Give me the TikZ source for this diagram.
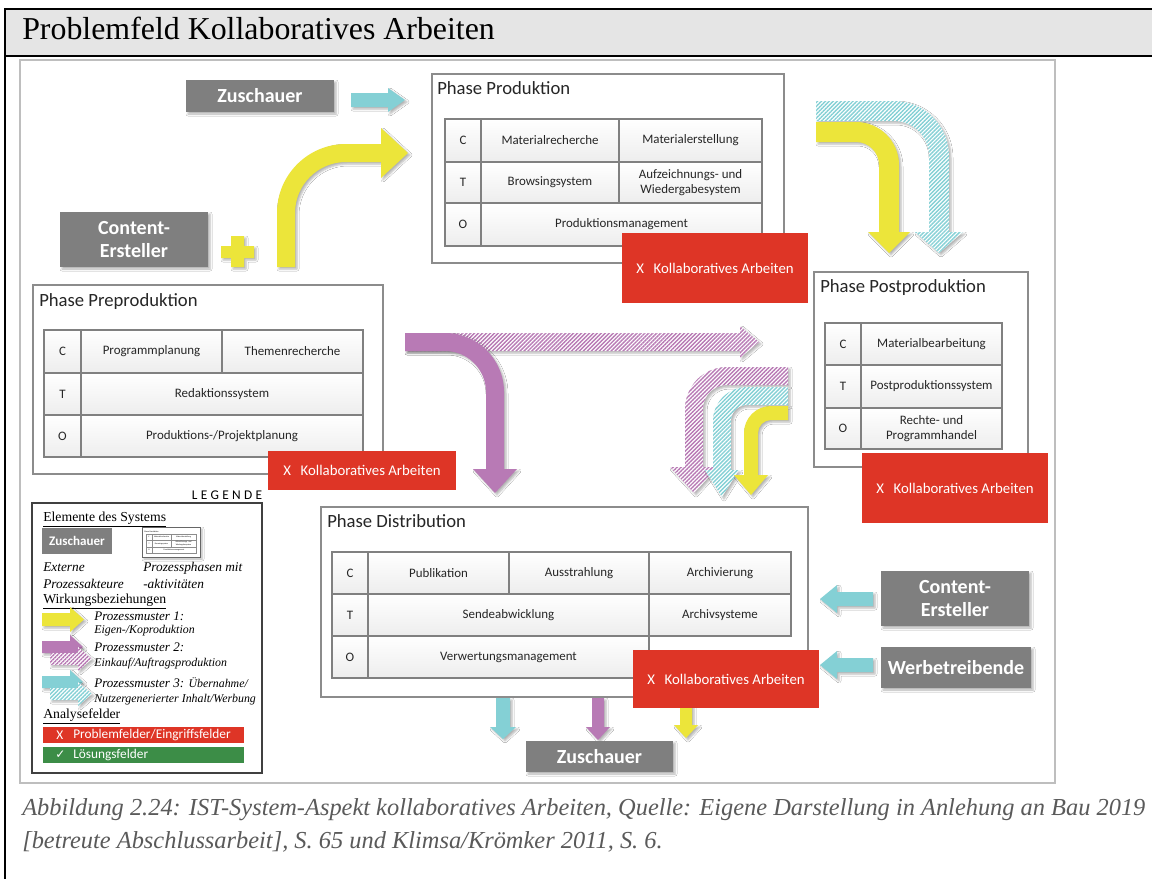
\documentclass[tikz,border=0pt]{standalone}
\usepackage{fontspec}
\setmainfont{Liberation Serif}
\newfontfamily\dgfont{Carlito}
\newfontfamily\dgspaced[LetterSpace=25]{Carlito}
\newfontfamily\chkfont{DejaVu Sans}
\usetikzlibrary{patterns.meta,shadows.blur}

\definecolor{ayellow}{RGB}{236,229,58}
\definecolor{apurple}{RGB}{184,122,181}
\definecolor{acyan}{RGB}{132,208,213}
\definecolor{actorgrey}{RGB}{127,127,127}
\definecolor{alarm}{RGB}{222,53,38}
\definecolor{okgreen}{RGB}{60,141,71}
\definecolor{framegrey}{RGB}{190,190,190}
\definecolor{boxgrey}{RGB}{140,140,140}
\definecolor{cellgrey}{RGB}{128,128,128}
\definecolor{titlebg}{RGB}{229,229,229}
\definecolor{captiongrey}{RGB}{90,90,90}

\tikzset{
  px/.style={x=0.75pt,y=-0.75pt},
  soft/.style={blur shadow={shadow xshift=1.5pt, shadow yshift=-1.5pt, shadow blur radius=1.5pt, shadow opacity=30}},
  solidarrow/.style={soft, fill=#1},
  hatcharrow/.style={soft, preaction={fill=white}, pattern={Lines[angle=45,distance=2.1pt,line width=1.05pt]}, pattern color=#1},
  phasebox/.style={draw=boxgrey, line width=0.9pt, fill=white},
  phasetitle/.style={font=\dgfont\fontsize{14}{16}\selectfont, anchor=base west, inner sep=0pt, text=black!85},
  tcell/.style={draw=cellgrey, line width=0.9pt, top color=white, bottom color=black!7},
  ttext/.style={font=\dgfont\fontsize{9.7}{11.3}\selectfont, align=center, inner sep=0pt, text=black!85},
  actorbox/.style={fill=actorgrey, soft},
  actortext/.style={font=\dgfont\bfseries\fontsize{15}{17.3}\selectfont, text=white, align=center, inner sep=0pt},
  alarmbox/.style={fill=alarm},
  alarmtext/.style={font=\dgfont\fontsize{11.1}{13}\selectfont, text=white, inner sep=0pt},
  legendhead/.style={font=\fontsize{10.3}{12}\selectfont, anchor=base west, inner sep=0pt},
  legenditem/.style={font=\itshape\fontsize{10}{12}\selectfont, anchor=base west, inner sep=0pt},
  legendpm/.style={font=\itshape\fontsize{9.8}{12}\selectfont, anchor=base west, inner sep=0pt},
  legendsub/.style={font=\itshape\fontsize{8.9}{11}\selectfont, anchor=base west, inner sep=0pt},
  legendbar/.style={font=\dgfont\fontsize{10}{12}\selectfont, text=white, anchor=west, inner sep=0pt},
  minicell/.style={draw=black!45, line width=0.25pt, fill=white},
  minitext/.style={font=\dgfont\fontsize{1.5}{1.8}\selectfont, inner sep=0pt, align=center},
  captiontext/.style={font=\itshape\fontsize{18.3}{22}\selectfont, text=captiongrey, anchor=base west, inner sep=0pt}
}

% table cell: name, x1, y1, x2, y2, text
\newcommand\tcell[6]{%
  \draw[tcell] (#2,#3) rectangle (#4,#5);
  \node[ttext] (#1) at ({(#2+#4)/2},{(#3+#5)/2}) {#6};}
% red problem field: name, x1, y1, x2, y2
\newcommand\alarmfield[5]{%
  \fill[alarmbox] (#2,#3) rectangle (#4,#5);
  \node[alarmtext] (#1) at ({(#2+#4)/2},{(#3+#5)/2}) {X\hspace{0.65em}Kollaboratives Arbeiten};}
% external actor: name, x1, y1, x2, y2, text
\newcommand\actor[6]{%
  \fill[actorbox] (#2,#3) rectangle (#4,#5);
  \node[actortext] (#1) at ({(#2+#4)/2},{(#3+#5)/2}) {#6};}
% small table cell for the legend thumbnail
\newcommand\mcell[6]{%
  \draw[minicell] (#2,#3) rectangle (#4,#5);
  \node[minitext] (#1) at ({(#2+#4)/2},{(#3+#5)/2}) {#6};}

\begin{document}
\begin{tikzpicture}[px]
\useasboundingbox (0,0) rectangle (1152,879);
\fill[white] (0,0) rectangle (1152,879);

% ---- page frame and heading
\fill[titlebg] (5,9) rectangle (1152,56);
\draw[line width=1.9pt] (1152,9) -- (5,9) -- (5,879);
\draw[line width=1.9pt] (5,56) -- (1152,56);
\node[anchor=base west, font=\fontsize{23.9}{28}\selectfont, inner sep=0pt] (title) at (22,39) {Problemfeld Kollaboratives Arbeiten};

% ---- figure frame
\draw[framegrey, line width=1.2pt] (20,60) rectangle (1055,783);

% ---- process arrows
% Zuschauer -> Produktion
\path[solidarrow=acyan] (351,93) -- (388,93) -- (388,88) -- (405,100) -- (388,112) -- (388,107) -- (351,107) -- cycle;
% Content-Ersteller -> Produktion
\path[solidarrow=ayellow] (277,267) -- (277,213) arc[start angle=180,end angle=270,radius=69] -- (381,144) -- (381,128) -- (408,153) -- (381,178) -- (381,162) -- (346,162) arc[start angle=270,end angle=180,radius=51] -- (295,267) -- cycle;
% plus sign
\path[solidarrow=ayellow] (231,236) -- (244,236) -- (244,246) -- (254,246) -- (254,258) -- (244,258) -- (244,267) -- (231,267) -- (231,258) -- (221,258) -- (221,246) -- (231,246) -- cycle;

% Produktion -> Postproduktion
\path[hatcharrow=acyan] (816,101) -- (894,101) arc[start angle=270,end angle=360,radius=55] -- (949,232) -- (963,232) -- (939,253) -- (915,232) -- (929,232) -- (929,156) arc[start angle=0,end angle=-90,radius=35] -- (816,121) -- cycle;
\path[solidarrow=ayellow] (816,122) -- (856,122) arc[start angle=270,end angle=360,radius=43] -- (899,232) -- (910,232) -- (889,253) -- (868,232) -- (879,232) -- (879,165) arc[start angle=0,end angle=-90,radius=23] -- (816,142) -- cycle;

% Preproduktion -> Postproduktion / Distribution
\path[hatcharrow=apurple] (405,333) -- (740,333) -- (740,326) -- (759,342) -- (740,358) -- (740,351) -- (405,351) -- cycle;
\path[solidarrow=apurple] (405,333) -- (445,333) arc[start angle=270,end angle=360,radius=59] -- (504,469) -- (517,469) -- (495,493) -- (473,469) -- (486,469) -- (486,392) arc[start angle=0,end angle=-90,radius=41] -- (445,351) -- (405,351) -- cycle;

% Postproduktion -> Distribution
\path[hatcharrow=apurple] (788,367) -- (727,367) arc[start angle=270,end angle=180,radius=42] -- (685,467) -- (670,467) -- (694,493) -- (718,467) -- (703,467) -- (703,409) arc[start angle=180,end angle=270,radius=24] -- (788,385) -- cycle;
\path[hatcharrow=acyan] (788,387) -- (747,387) arc[start angle=270,end angle=180,radius=34] -- (713,470) -- (705,470) -- (722,497) -- (739,470) -- (731,470) -- (731,421) arc[start angle=180,end angle=270,radius=16] -- (788,405) -- cycle;
\path[solidarrow=ayellow] (788,406) -- (771,406) arc[start angle=270,end angle=180,radius=27] -- (744,475) -- (734,475) -- (751,495) -- (768,475) -- (758,475) -- (758,433) arc[start angle=180,end angle=270,radius=13] -- (788,420) -- cycle;

% Distribution -> Zuschauer
\path[solidarrow=acyan] (496,698) -- (510,698) -- (510,727) -- (516,727) -- (503,739) -- (490,727) -- (496,727) -- cycle;
\path[solidarrow=apurple] (592,698) -- (604,698) -- (604,727) -- (610,727) -- (598,740) -- (586,727) -- (592,727) -- cycle;
\path[solidarrow=ayellow] (680,700) -- (692,700) -- (692,725) -- (698,725) -- (686,738) -- (674,725) -- (680,725) -- cycle;

% external actors -> Distribution
\path[solidarrow=acyan] (873,592) -- (837,592) -- (837,585) -- (820,599) -- (837,613) -- (837,606) -- (873,606) -- cycle;
\path[solidarrow=acyan] (873,658) -- (837,658) -- (837,651) -- (820,665) -- (837,679) -- (837,672) -- (873,672) -- cycle;

% ---- Phase Produktion
\draw[phasebox] (432,74) rectangle (784,263);
\node[phasetitle] (phPr) at (437,94) {Phase Produktion};
\tcell{prC}{445}{119}{481}{162}{C}
\tcell{prMR}{481}{119}{619}{162}{Materialrecherche}
\tcell{prME}{619}{119}{762}{162}{Materialerstellung}
\tcell{prT}{445}{162}{481}{203}{T}
\tcell{prBS}{481}{162}{619}{203}{Browsingsystem}
\tcell{prAW}{619}{162}{762}{203}{Aufzeichnungs- und\\Wiedergabesystem}
\tcell{prO}{445}{203}{481}{246}{O}
\tcell{prPM}{481}{203}{762}{246}{Produktionsmanagement}

% ---- Phase Preproduktion
\draw[phasebox] (33,285) rectangle (383,474);
\node[phasetitle] (phPp) at (39,306) {Phase Preproduktion};
\tcell{ppC}{44}{330}{81}{373}{C}
\tcell{ppPP}{81}{330}{222}{373}{Programmplanung}
\tcell{ppTR}{222}{330}{363}{373}{Themenrecherche}
\tcell{ppT}{44}{373}{81}{415}{T}
\tcell{ppRS}{81}{373}{363}{415}{Redaktionssystem}
\tcell{ppO}{44}{415}{81}{457}{O}
\tcell{ppPJ}{81}{415}{363}{457}{Produktions-/Projektplanung}

% ---- Phase Postproduktion
\draw[phasebox] (814,272) rectangle (1028,467);
\node[phasetitle] (phPo) at (820,292) {Phase Postproduktion};
\tcell{poC}{825}{323}{861}{365}{C}
\tcell{poMB}{861}{323}{1002}{365}{Materialbearbeitung}
\tcell{poT}{825}{365}{861}{408}{T}
\tcell{poPS}{861}{365}{1002}{408}{Postproduktionssystem}
\tcell{poO}{825}{408}{861}{449}{O}
\tcell{poRP}{861}{408}{1002}{449}{Rechte- und\\Programmhandel}

% ---- Phase Distribution
\draw[phasebox] (321,507) rectangle (808,697);
\node[phasetitle] (phDi) at (327,527) {Phase Distribution};
\tcell{diC}{332}{552}{368}{594}{C}
\tcell{diPu}{368}{552}{509}{594}{Publikation}
\tcell{diAu}{509}{552}{649}{594}{Ausstrahlung}
\tcell{diAr}{649}{552}{791}{594}{Archivierung}
\tcell{diT}{332}{594}{368}{636}{T}
\tcell{diSA}{368}{594}{649}{636}{Sendeabwicklung}
\tcell{diAS}{649}{594}{791}{636}{Archivsysteme}
\tcell{diO}{332}{636}{368}{678}{O}
\tcell{diVM}{368}{636}{649}{678}{Verwertungsmanagement}

% ---- problem fields
\alarmfield{kaPr}{622}{233}{808}{303}
\alarmfield{kaPp}{268}{451}{456}{490}
\alarmfield{kaPo}{862}{453}{1048}{523}
\alarmfield{kaDi}{633}{650}{819}{708}

% ---- external actors
\actor{zuTop}{186}{80}{334}{112}{Zuschauer}
\actor{ceLeft}{60}{212}{208}{267}{Content-\\Ersteller}
\actor{ceRight}{881}{571}{1029}{626}{Content-\\Ersteller}
\actor{wbRight}{881}{647}{1031}{688}{Werbetreibende}
\actor{zuBot}{526}{741}{673}{772}{Zuschauer}

% ---- legend
\node[anchor=base, font=\dgspaced\fontsize{10}{12}\selectfont, inner sep=0pt] (legTitle) at (227,499) {LEGENDE};
\draw[black!75, line width=0.9pt, fill=white] (32,503) rectangle (262,773);
\node[legendhead] (lgElem) at (43,521) {\underline{Elemente des Systems}};
\fill[actorgrey] (42,528) rectangle (112,554);
\node[font=\dgfont\bfseries\fontsize{9.8}{12}\selectfont, text=white, inner sep=0pt] (lgZu) at (77,541) {Zuschauer};
% thumbnail of a process phase
\draw[black!60, line width=0.6pt, fill=white, soft] (142,527) rectangle (200,557);
\node[minitext, anchor=base west] (lgThumbT) at (144,532) {Phase Produktion};
\mcell{mC}{146}{534}{152}{540.3}{C}
\mcell{mA}{152}{534}{171}{540.3}{Materialrecherche}
\mcell{mB}{171}{534}{196}{540.3}{Materialerstellung}
\mcell{mT}{146}{540.3}{152}{546.7}{T}
\mcell{mD}{152}{540.3}{171}{546.7}{Browsingsystem}
\mcell{mE}{171}{540.3}{196}{546.7}{Aufzeichnungs- und\\Wiedergabesystem}
\mcell{mO}{146}{546.7}{152}{553}{O}
\mcell{mF}{152}{546.7}{196}{553}{Produktionsmanagement}
\node[legenditem] (lgExt1) at (43,571) {Externe};
\node[legenditem] (lgExt2) at (43,588) {Prozessakteure};
\node[legenditem] (lgPh1) at (143,571) {Prozessphasen mit};
\node[legenditem] (lgPh2) at (143,588) {-aktivitäten};
\node[legendhead] (lgWirk) at (43,603) {\underline{Wirkungsbeziehungen}};
% pattern arrows
\path[solidarrow=ayellow] (42,613) -- (70,613) -- (70,607) -- (84,619.5) -- (70,632) -- (70,626) -- (42,626) -- cycle;
\path[solidarrow=apurple] (42,641) -- (70,641) -- (70,635) -- (83,647) -- (70,659) -- (70,653) -- (42,653) -- cycle;
\path[hatcharrow=apurple] (50,653) -- (78,653) -- (78,647) -- (92,659) -- (78,671) -- (78,665) -- (50,665) -- cycle;
\path[solidarrow=acyan] (42,676) -- (70,676) -- (70,670) -- (83,682) -- (70,694) -- (70,688) -- (42,688) -- cycle;
\path[hatcharrow=acyan] (50,688) -- (78,688) -- (78,682) -- (92,694) -- (78,706) -- (78,700) -- (50,700) -- cycle;
\node[legendpm] (lgPM1) at (94,620) {Prozessmuster 1:};
\node[legendsub] (lgPM1s) at (94,633) {Eigen-/Koproduktion};
\node[legendpm] (lgPM2) at (94,651) {Prozessmuster 2:};
\node[legendsub] (lgPM2s) at (94,666) {Einkauf/Auftragsproduktion};
\node[legendpm] (lgPM3) at (94,687) {Prozessmuster 3: {\fontsize{8.9}{11}\selectfont Übernahme/}};
\node[legendsub] (lgPM3s) at (94,702) {Nutzergenerierter Inhalt/Werbung};
\node[legendhead] (lgAna) at (43,718) {\underline{Analysefelder}};
\fill[alarm] (43,727) rectangle (244,743);
\node[legendbar] (lgX) at (56,735) {X};
\node[legendbar] (lgProb) at (73,735) {Problemfelder/Eingriffsfelder};
\fill[okgreen] (43,747) rectangle (244,763);
\node[legendbar, font=\chkfont\fontsize{9}{11}\selectfont] (lgChk) at (55,755) {✓};
\node[legendbar] (lgLoes) at (73,755) {Lösungsfelder};

% ---- caption
\node[captiontext] (cap1) at (22,815) {Abbildung 2.24: IST-System-Aspekt kollaboratives Arbeiten, Quelle: Eigene Darstellung in Anlehung an Bau 2019};
\node[captiontext] (cap2) at (22,848) {[betreute Abschlussarbeit], S. 65 und Klimsa/Krömker 2011, S. 6.};
\end{tikzpicture}
\end{document}
